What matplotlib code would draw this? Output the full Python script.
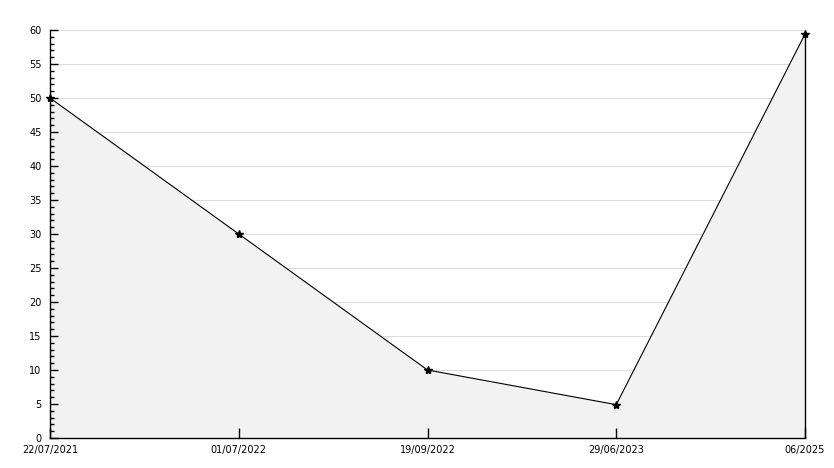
import numpy as np
import matplotlib.pyplot as plt
from matplotlib.ticker import MultipleLocator

labels = ["22/07/2021", "01/07/2022", "19/09/2022", "29/06/2023", "06/2025"]
values = [50, 30, 10, 4.9, 59.4]

x = np.arange(len(labels))

fig = plt.figure(figsize=(8.34, 4.68), dpi=100)
ax = fig.add_axes([50/834, 30/468, 755/834, 408/468])

# grid drawn under the filled area
for yv in np.arange(5, 61, 5):
    ax.axhline(yv, color="#dcdcdc", lw=0.8, zorder=0)

ax.fill_between(x, values, 0, color="#f2f2f2", zorder=1)
ax.vlines(x[-1], 0, values[-1], color="black", lw=1, zorder=3, clip_on=False)
ax.plot(x, values, color="black", lw=0.8, marker="*", ms=6, zorder=4, clip_on=False)

ax.set_xlim(x[0], x[-1])
ax.set_ylim(0, 60)
ax.set_xticks(x)
ax.set_xticklabels(labels)
ax.yaxis.set_major_locator(MultipleLocator(5))
ax.yaxis.set_minor_locator(MultipleLocator(1))

ax.spines["top"].set_visible(False)
ax.spines["right"].set_visible(False)
ax.spines["left"].set_linewidth(1)
ax.spines["bottom"].set_linewidth(1)

ax.tick_params(axis="y", which="major", direction="in", length=6, width=1, labelsize=7, pad=6)
ax.tick_params(axis="y", which="minor", direction="in", length=3, width=1)
ax.tick_params(axis="x", direction="in", length=7, width=1, labelsize=7, pad=5)

fig.savefig("out.png", dpi=100, facecolor="white")
